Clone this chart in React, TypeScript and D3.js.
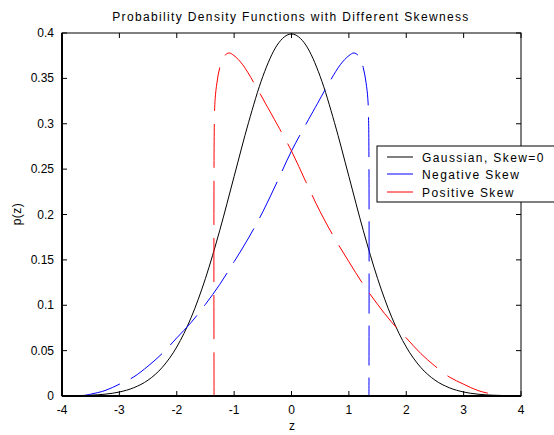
import React from "react";
import * as d3 from "d3";

const gaussZ = [-4, -3.75, -3.5, -3.25, -3, -2.75, -2.5, -2.25, -2, -1.75, -1.5, -1.25, -1, -0.75, -0.5, -0.25, 0, 0.25, 0.5, 0.75, 1, 1.25, 1.5, 1.75, 2, 2.25, 2.5, 2.75, 3, 3.25, 3.5, 3.75, 4];
const gaussP = [0.0001, 0.0004, 0.0009, 0.002, 0.0044, 0.0091, 0.0175, 0.0317, 0.054, 0.0863, 0.1295, 0.1826, 0.242, 0.3011, 0.3521, 0.3867, 0.3989, 0.3867, 0.3521, 0.3011, 0.242, 0.1826, 0.1295, 0.0863, 0.054, 0.0317, 0.0175, 0.0091, 0.0044, 0.002, 0.0009, 0.0004, 0.0001];

const posZ = [-1.35, -1.345, -1.33, -1.3, -1.25, -1.18, -1.09, -1.0, -0.85, -0.6, -0.45, -0.3, 0, 0.25, 0.5, 0.75, 1.0, 1.25, 1.5, 1.75, 2.0, 2.25, 2.5, 2.75, 3.0, 3.25, 3.5, 3.65];
const posP = [0, 0.3, 0.328, 0.345, 0.362, 0.374, 0.378, 0.375, 0.365, 0.339, 0.322, 0.305, 0.27, 0.236, 0.203, 0.174, 0.148, 0.123, 0.101, 0.081, 0.064, 0.047, 0.033, 0.021, 0.013, 0.006, 0.002, 0];

const negZ = [-3.65, -3.5, -3.25, -3.0, -2.75, -2.5, -2.25, -2.0, -1.75, -1.5, -1.25, -1.0, -0.75, -0.5, -0.25, 0, 0.3, 0.45, 0.6, 0.85, 1.0, 1.09, 1.18, 1.25, 1.3, 1.33, 1.345, 1.35];
const negP = [0, 0.002, 0.006, 0.013, 0.021, 0.033, 0.047, 0.064, 0.081, 0.101, 0.123, 0.148, 0.174, 0.203, 0.236, 0.27, 0.305, 0.322, 0.339, 0.365, 0.375, 0.378, 0.374, 0.362, 0.345, 0.328, 0.3, 0];

const xTicks = [-4, -3, -2, -1, 0, 1, 2, 3, 4];
const yTicks = [0, 0.05, 0.1, 0.15, 0.2, 0.25, 0.3, 0.35, 0.4];
const legendLabels = ["Gaussian, Skew=0", "Negative Skew", "Positive Skew"];
const legendColors = ["#000000", "#0000ff", "#ff0000"];

const W = 554, H = 435;
const L = 62, R = 521, T = 33, B = 396;
const FONT = "Arial, 'Liberation Sans', Helvetica, sans-serif";

export default function App() {
  const x = d3.scaleLinear().domain([-4, 4]).range([L, R]);
  const y = d3.scaleLinear().domain([0, 0.4]).range([B, T]);
  const line = d3.line<[number, number]>().x(d => x(d[0])).y(d => y(d[1])).curve(d3.curveMonotoneX);
  const lineLin = d3.line<[number, number]>().x(d => x(d[0])).y(d => y(d[1])).curve(d3.curveCatmullRom.alpha(0.5));
  const g = line(gaussZ.map((z, i) => [z, gaussP[i]]) as [number, number][]) || "";
  const pos = lineLin(posZ.map((z, i) => [z, posP[i]]) as [number, number][]) || "";
  const neg = lineLin(negZ.map((z, i) => [z, negP[i]]) as [number, number][]) || "";
  const tl = 5;
  const lgX = 377, lgY = 146, lgW = 180, lgH = 56;
  const rows = [157, 174, 192];
  return (
    <svg width={W} height={H} style={{ position: "absolute", left: 0, top: 0, background: "#fff" }} fontFamily={FONT}>
      <rect x={0} y={0} width={W} height={H} fill="#fff" />
      <path d={g} fill="none" stroke="#000" strokeWidth={1} />
      <path d={neg} fill="none" stroke="#0000ff" strokeWidth={1} strokeDasharray="40,12" />
      <path d={pos} fill="none" stroke="#ff0000" strokeWidth={1} strokeDasharray="44,13" />
      <rect x={L} y={T} width={R - L} height={B - T} fill="none" stroke="#000" strokeWidth={1} />
      <line x1={L} x2={R} y1={B} y2={B} stroke="#000" strokeWidth={2} />
      <line x1={L} x2={L} y1={T} y2={B} stroke="#000" strokeWidth={2} />
      {xTicks.map(t => (
        <g key={"x" + t}>
          <line x1={x(t)} x2={x(t)} y1={B} y2={B - tl} stroke="#000" />
          <line x1={x(t)} x2={x(t)} y1={T} y2={T + tl} stroke="#000" />
          <text x={x(t)} y={414} textAnchor="middle" fontSize={12}>{t}</text>
        </g>
      ))}
      {yTicks.map(t => (
        <g key={"y" + t}>
          <line x1={L} x2={L + tl} y1={y(t)} y2={y(t)} stroke="#000" />
          <line x1={R} x2={R - tl} y1={y(t)} y2={y(t)} stroke="#000" />
          <text x={54} y={y(t) + 4} textAnchor="end" fontSize={12}>{String(t)}</text>
        </g>
      ))}
      <text x={291} y={21} textAnchor="middle" fontSize={12} letterSpacing={1.35}>Probability Density Functions with Different Skewness</text>
      <text x={292} y={430} textAnchor="middle" fontSize={12}>z</text>
      <text transform="translate(21,214) rotate(-90)" textAnchor="middle" fontSize={12} letterSpacing={0.5}>p(z)</text>
      <rect x={lgX} y={lgY} width={lgW} height={lgH} fill="#fff" stroke="#000" strokeWidth={1} />
      {legendLabels.map((lab, i) => (
        <g key={lab}>
          <line x1={387} x2={413} y1={rows[i]} y2={rows[i]} stroke={legendColors[i]} strokeWidth={1} />
          <text x={422} y={rows[i] + 4.5} fontSize={12} letterSpacing={1.4}>{lab}</text>
        </g>
      ))}
    </svg>
  );
}
